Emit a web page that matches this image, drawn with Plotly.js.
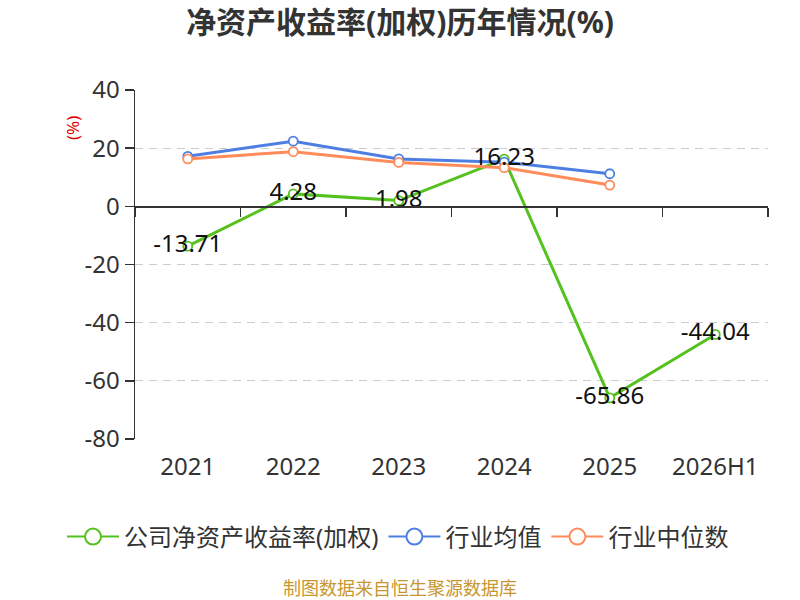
<!DOCTYPE html>
<html>
<head>
<meta charset="utf-8">
<script src="https://cdn.plot.ly/plotly-3.0.1.min.js"></script>
<style>
  html, body { margin: 0; padding: 0; background: #fff; }
  #chart { width: 800px; height: 600px; }
</style>
</head>
<body>
<div id="chart"></div>
<script>
// 年份
var years = ['2021', '2022', '2023', '2024', '2025', '2026H1'];
// 公司净资产收益率(加权)
var companyRoe = [-13.71, 4.28, 1.98, 16.23, -65.86, -44.04];
// 行业均值
var industryAvg = [17.2, 22.4, 16.3, 15.2, 11.2, null];
// 行业中位数
var industryMedian = [16.3, 18.8, 15.1, 13.3, 7.3, null];
// y 轴刻度
var yTickVals = [-80, -60, -40, -20, 0, 20, 40];
var yTickText = ['-80', '-60', '-40', '-20', '0', '20', '40'];

var fontFamily = 'Noto Sans, Noto Sans CJK SC, sans-serif';
var green = '#55c11e';
var blue = '#4d7fe3';
var orange = '#ff8c5a';

function lineTrace(name, ys, color) {
  return {
    x: years,
    y: ys,
    name: name,
    type: 'scatter',
    mode: 'lines+markers',
    line: { color: color, width: 3 },
    marker: { color: '#fff', size: 9, line: { color: color, width: 1.8 } },
    showlegend: false,
    hoverinfo: 'skip'
  };
}

// 图例专用（不画数据）
function legendTrace(name, color) {
  return {
    x: [null],
    y: [null],
    name: name,
    type: 'scatter',
    mode: 'lines+markers',
    line: { color: color, width: 2 },
    marker: { color: '#fff', size: 16, line: { color: color, width: 2 } },
    hoverinfo: 'skip'
  };
}

var data = [
  lineTrace('公司净资产收益率(加权)', companyRoe, green),
  lineTrace('行业均值', industryAvg, blue),
  lineTrace('行业中位数', industryMedian, orange),
  {
    // 数据标签
    x: years,
    y: companyRoe,
    type: 'scatter',
    mode: 'text',
    text: companyRoe.map(function (v) { return v.toFixed(2); }),
    textposition: 'middle center',
    textfont: { family: fontFamily, size: 24, color: '#111' },
    showlegend: false,
    hoverinfo: 'skip'
  },
  {
    // 零轴用的隐形 trace
    x: years,
    y: companyRoe,
    xaxis: 'x2',
    type: 'scatter',
    mode: 'lines',
    opacity: 0,
    line: { width: 0 },
    showlegend: false,
    hoverinfo: 'skip'
  },
  legendTrace('公司净资产收益率(加权)', green),
  legendTrace('行业均值', blue),
  legendTrace('行业中位数', orange)
];

var layout = {
  width: 800,
  height: 600,
  margin: { l: 135, r: 32, t: 90, b: 161 },
  paper_bgcolor: '#fff',
  plot_bgcolor: '#fff',
  font: { family: fontFamily, color: '#333' },
  title: {
    text: '<b>净资产收益率(加权)历年情况(%)</b>',
    font: { family: fontFamily, size: 30, color: '#333' },
    x: 0.5, xanchor: 'center',
    y: 1 - 22 / 600, yanchor: 'middle'
  },
  xaxis: {
    type: 'category',
    range: [-0.5, 5.5],
    showline: false,
    showgrid: false,
    zeroline: false,
    ticks: '',
    ticklabelstandoff: 11,
    tickfont: { family: fontFamily, size: 24, color: '#333' }
  },
  xaxis2: {
    type: 'category',
    overlaying: 'x',
    anchor: 'free',
    position: 80 / 120,
    range: [-0.5, 5.5],
    showline: true,
    linecolor: '#333',
    linewidth: 1.5,
    ticks: 'outside',
    tickson: 'boundaries',
    ticklen: 9,
    tickwidth: 1.5,
    tickcolor: '#333',
    showticklabels: false,
    showgrid: false,
    zeroline: false
  },
  yaxis: {
    range: [-80, 40],
    tickvals: yTickVals,
    ticktext: yTickText,
    showline: true,
    linecolor: '#333',
    linewidth: 1.5,
    ticks: 'outside',
    ticklen: 9,
    tickwidth: 1.5,
    tickcolor: '#333',
    gridcolor: '#cccccc',
    gridwidth: 1.3,
    griddash: '8px,6px',
    zeroline: false,
    tickfont: { family: fontFamily, size: 24, color: '#333' }
  },
  legend: {
    orientation: 'h',
    x: (62 - 135) / 633,
    xanchor: 'left',
    y: (439 - 537) / 349,
    yanchor: 'middle',
    itemwidth: 52,
    font: { family: fontFamily, size: 24, color: '#333' }
  },
  annotations: [
    {
      text: '(%)',
      textangle: -90,
      xref: 'paper', yref: 'paper',
      x: (72 - 135) / 633, y: (439 - 128) / 349,
      xanchor: 'center', yanchor: 'middle',
      showarrow: false,
      font: { family: fontFamily, size: 17, color: '#e00000' }
    },
    {
      text: '制图数据来自恒生聚源数据库',
      xref: 'paper', yref: 'paper',
      x: (400 - 135) / 633, y: (439 - 588) / 349,
      xanchor: 'center', yanchor: 'middle',
      showarrow: false,
      font: { family: fontFamily, size: 18, color: '#c8962e' }
    }
  ]
};

Plotly.newPlot('chart', data, layout, { displayModeBar: false, staticPlot: true });
</script>
</body>
</html>
